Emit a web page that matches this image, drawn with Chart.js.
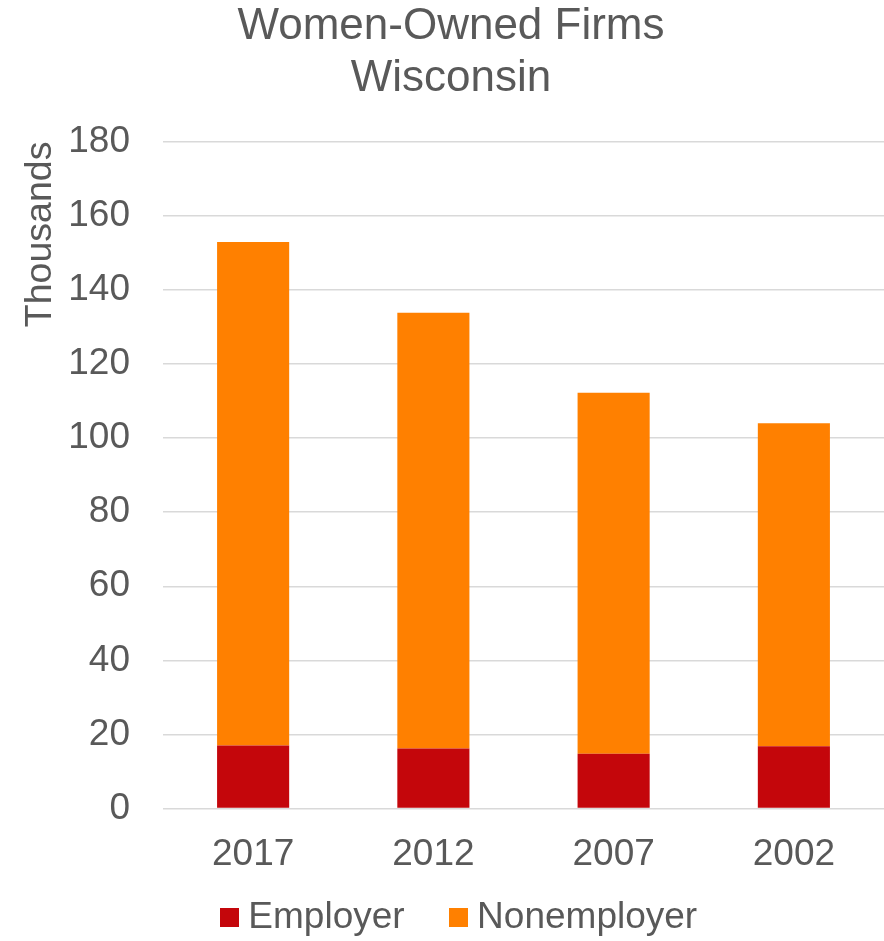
<!DOCTYPE html>
<html lang="en">
<head>
<meta charset="UTF-8">
<title>Women-Owned Firms Wisconsin</title>
<script src="https://cdn.jsdelivr.net/npm/chart.js"></script>
<style>
  html, body { margin: 0; padding: 0; background: #fff; overflow: hidden; }
  #wrap { width: 884px; height: 941px; }
</style>
</head>
<body>
<div id="wrap"><canvas id="myChart"></canvas></div>
<script>
const years = ['2017', '2012', '2007', '2002'];
const employer = [17.0, 16.2, 14.8, 16.8];
const nonemployer = [135.9, 117.6, 97.4, 87.2];
const yTicks = [0, 20, 40, 60, 80, 100, 120, 140, 160, 180];

const grey = '#595959';
const red = '#c4060b';
const orange = '#ff8000';
Chart.defaults.font.family = '"Liberation Sans", Arial, sans-serif';
Chart.defaults.color = grey;

// small square swatch for the legend (keeps the box close to its text)
function swatch(color) {
  const c = document.createElement('canvas');
  c.width = 19;
  c.height = 19;
  const g = c.getContext('2d');
  g.fillStyle = color;
  g.fillRect(0, 0, 19, 19);
  return c;
}

// legend padding gives the wide gap between items; draw the row higher than its slot
const liftLegend = {
  id: 'liftLegend',
  afterLayout(chart) {
    chart.legend.top -= 55;
    chart.legend.left += 12;
    chart.legend.right += 12;
  }
};

const ctx = document.getElementById('myChart').getContext('2d');
const myChart = new Chart(ctx, {
  type: 'bar',
  data: {
    labels: years,
    datasets: [
      { label: 'Employer', data: employer, backgroundColor: red, pointStyle: swatch(red), barPercentage: 0.4, categoryPercentage: 1 },
      { label: 'Nonemployer', data: nonemployer, backgroundColor: orange, pointStyle: swatch(orange), barPercentage: 0.4, categoryPercentage: 1 }
    ]
  },
  plugins: [liftLegend],
  options: {
    responsive: true,
    maintainAspectRatio: false,
    animation: false,
    layout: { padding: { top: 0, right: 0, left: 18, bottom: 0 } },
    plugins: {
      title: {
        display: true,
        text: ['Women-Owned Firms', 'Wisconsin'],
        font: { size: 44, weight: 'normal', lineHeight: 1.2 },
        color: grey,
        padding: { top: 0, bottom: 36 }
      },
      legend: {
        position: 'bottom',
        maxHeight: 40,
        labels: {
          usePointStyle: true,
          pointStyleWidth: 1,
          boxHeight: 19,
          font: { size: 37 },
          color: grey,
          padding: 53
        }
      },
      tooltip: { enabled: false }
    },
    scales: {
      x: {
        stacked: true,
        grid: { display: false, drawTicks: false },
        border: { display: false },
        ticks: { font: { size: 37 }, color: grey, padding: 24 }
      },
      y: {
        stacked: true,
        min: 0,
        max: 180,
        afterBuildTicks: axis => { axis.ticks = yTicks.map(v => ({ value: v })); },
        afterFit: axis => { axis.width = 145; },
        grid: { color: '#d9d9d9', lineWidth: 1.5, drawTicks: false },
        border: { display: false },
        ticks: { font: { size: 37 }, color: grey, padding: 33 },
        title: { display: true, text: 'Thousands', align: 'end', font: { size: 37.5 }, color: grey, padding: 0 }
      }
    }
  }
});
</script>
</body>
</html>
